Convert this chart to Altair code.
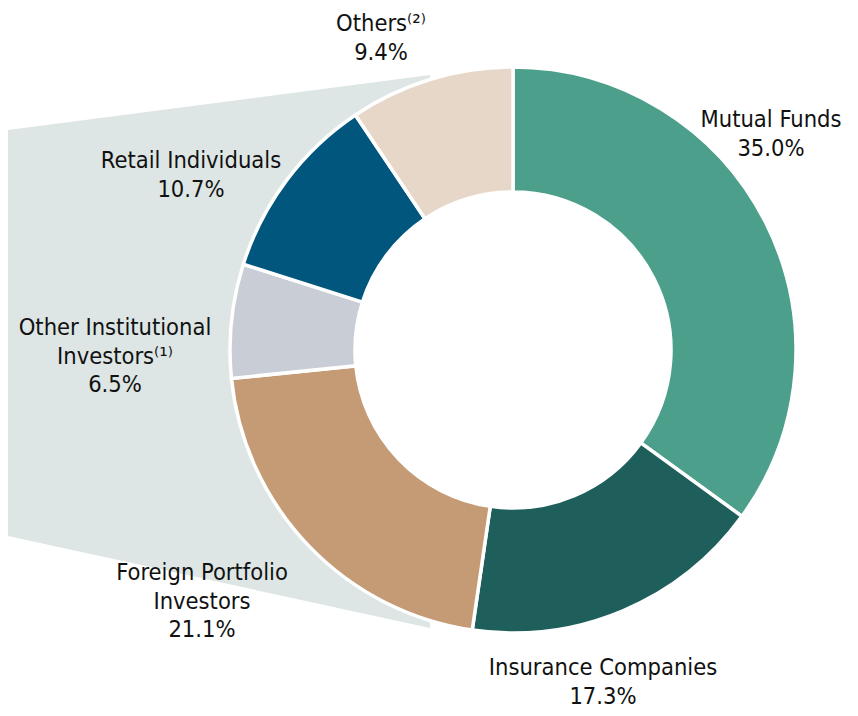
import altair as alt
import pandas as pd

# ---- chart values ----
categories = ["Mutual Funds", "Insurance Companies", "Foreign Portfolio Investors",
              "Other Institutional Investors", "Retail Individuals", "Others"]
shares = [35.0, 17.3, 21.1, 6.5, 10.7, 9.4]
label_texts = ["Mutual Funds\n35.0%", "Insurance Companies\n17.3%",
               "Foreign Portfolio\nInvestors\n21.1%",
               "Other Institutional\nInvestors\u207d\u00b9\u207e\n6.5%",
               "Retail Individuals\n10.7%", "Others\u207d\u00b2\u207e\n9.4%"]
colors = ["#4c9f8b", "#1f5f5b", "#c49b75", "#c9cdd6", "#01567e", "#e7d7c8"]

# ---- layout (plot-pixel space) ----
W, H = 842, 700
CX, CY = 505, 342
label_x = [763, 595, 194, 107, 183, 373]
label_y = [119, 667, 572, 327, 160, 23]
backdrop_x = [0, 422]
backdrop_top = [122, 67]
backdrop_bot = [528, 620]

slices = pd.DataFrame({"cat": categories, "share": shares, "order": list(range(len(categories)))})
labels = pd.DataFrame({"cat": categories, "text": label_texts, "lx": label_x, "ly": label_y})
backdrop = pd.DataFrame({"bx": backdrop_x, "bt": backdrop_top, "bb": backdrop_bot})
hole = pd.DataFrame({"k": [0]})

xs = alt.Scale(domain=[0, W], range=[0, W], nice=False, zero=False)
ys = alt.Scale(domain=[0, H], range=[0, H], nice=False, zero=False)

area = alt.Chart(backdrop).mark_area(color="#dde6e4", opacity=1).encode(
    x=alt.X("bx:Q", scale=xs, axis=None),
    y=alt.Y("bt:Q", scale=ys, axis=None),
    y2="bb:Q",
)

white_disk = alt.Chart(hole).mark_arc(
    outerRadius=160, innerRadius=0, color="white"
).encode(
    theta=alt.value(0), theta2=alt.value(6.2832),
    x=alt.value(CX), y=alt.value(CY),
)

donut = alt.Chart(slices).mark_arc(
    outerRadius=283, innerRadius=158, stroke="white", strokeWidth=3.5
).encode(
    theta=alt.Theta("share:Q", stack=True),
    order=alt.Order("order:Q"),
    color=alt.Color("cat:N", scale=alt.Scale(domain=categories, range=colors), legend=None),
    x=alt.value(CX),
    y=alt.value(CY),
)

text = alt.Chart(labels).mark_text(
    font="DejaVu Sans Condensed, DejaVu Sans", fontSize=23.5, lineBreak="\n",
    lineHeight=28.5, align="center", baseline="alphabetic", color="#111111"
).encode(
    x=alt.X("lx:Q", scale=xs, axis=None),
    y=alt.Y("ly:Q", scale=ys, axis=None),
    text="text:N",
)

chart = alt.layer(area, white_disk, donut, text).properties(
    width=W, height=H, padding=0, autosize=alt.AutoSizeParams(type="none")
).configure_view(stroke=None)

chart.save("out.html", embed_options={"renderer": "svg", "actions": False})
